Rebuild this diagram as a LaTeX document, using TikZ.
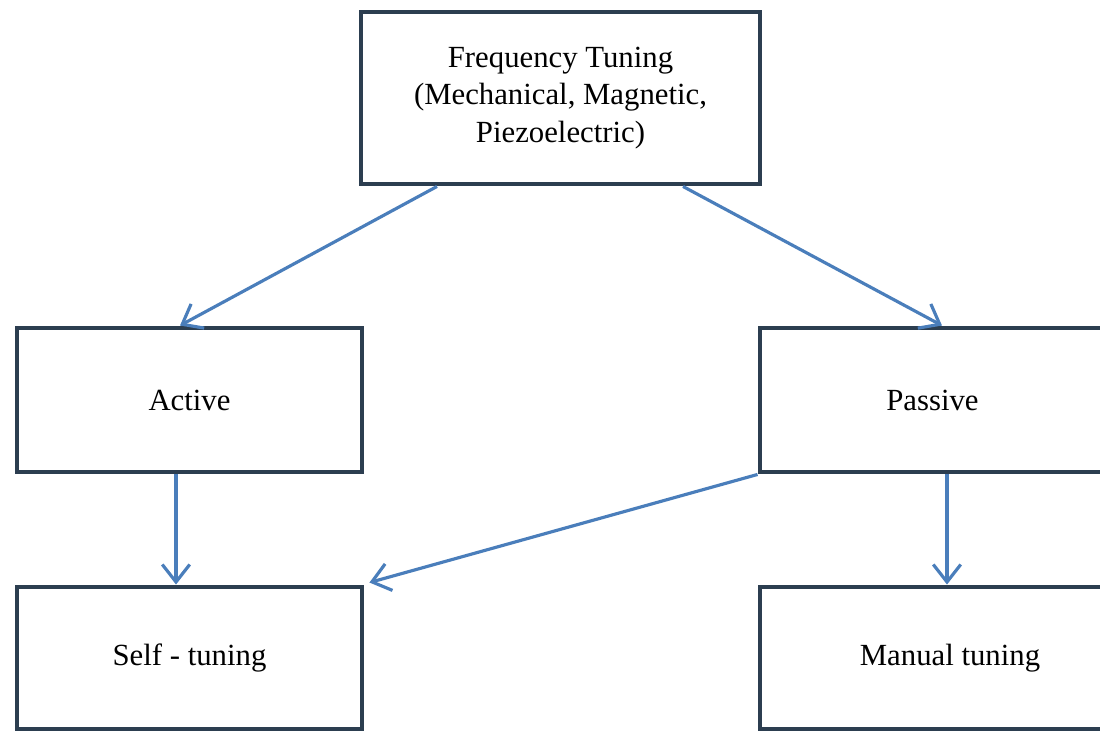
\documentclass[tikz,border=0pt]{standalone}
\usepackage{fontspec}
\setmainfont{Liberation Serif}
\usepackage{tikz}
\usetikzlibrary{arrows.meta,calc}
\definecolor{boxline}{RGB}{44,62,80}
\definecolor{arrowblue}{RGB}{74,126,187}

\begin{document}
\begin{tikzpicture}[
		box/.style={draw=boxline, line width=2.8pt, fill=white, rectangle, inner sep=0pt,
			minimum width=6.9cm, minimum height=2.88cm,
			font=\fontsize{17.5}{21.5}\selectfont, align=center},
		link/.style={draw=arrowblue, line width=1.8pt, -{Straight Barb[length=3.5mm,width=5.5mm]}}]
		\useasboundingbox (0,0) rectangle (22,-14.64);
		\clip (0,0) rectangle (22,-14.64);
				\node[box, minimum width=7.98cm, minimum height=3.44cm] (freq) at (11.21,-1.96)
					{Frequency Tuning\\(Mechanical, Magnetic,\\Piezoelectric)};
				\node[box] (active) at (3.79,-8) {Active};
				\node[box] (passive) at (18.65,-8) {Passive};
				\node[box, minimum height=2.84cm] (selftune) at (3.79,-13.16) {Self - tuning};
				\node[box, minimum height=2.84cm] (manual) at (18.65,-13.16) {\hspace*{0.7cm}Manual tuning};
				\draw[link] ($(freq.south)+(-2.47,0)$) -- ($(active.north)+(-0.19,0)$);
				\draw[link] ($(freq.south)+(2.45,0)$) -- ($(passive.north)+(0.19,0)$);
				\draw[link] ($(active.south)+(-0.27,0)$) coordinate (a) -- (a |- selftune.north);
				\draw[link] ($(passive.south)+(0.29,0)$) coordinate (p) -- (p |- manual.north);
				\draw[link] (passive.south west) -- ($(selftune.north east)+(0.1,0.04)$);
		\end{tikzpicture}
\end{document}
